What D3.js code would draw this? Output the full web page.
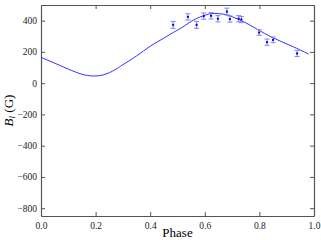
<!DOCTYPE html>
<html>
<head>
<script src="https://cdn.jsdelivr.net/npm/d3@7"></script>
<style>
  body { margin: 0; background: #fff; }
  svg text { font-family: "Liberation Serif", "Times New Roman", serif !important; }
</style>
</head>
<body>
<script>
// measured points (phase, field, error)
var phase = [0.484, 0.538, 0.570, 0.596, 0.623, 0.648, 0.681, 0.692, 0.724, 0.734, 0.799, 0.828, 0.850, 0.938];
var field = [373, 424, 373, 429, 431, 412, 458, 410, 412, 407, 324, 262, 277, 190];
var err   = [22, 20, 22, 20, 20, 20, 22, 20, 20, 20, 18, 20, 18, 20];

// fitted curve
var fitPhase = [0.00, 0.05, 0.10, 0.15, 0.19, 0.23, 0.27, 0.30, 0.35, 0.40, 0.45, 0.49, 0.52, 0.56, 0.60, 0.63, 0.67, 0.70, 0.74, 0.79, 0.85, 0.92, 0.98];
var fitField = [165, 128, 90, 57, 46, 54, 84, 118, 174, 236, 288, 330, 360, 405, 434, 446, 441, 425, 395, 347, 290, 236, 186];

var xTicks = [0.0, 0.2, 0.4, 0.6, 0.8, 1.0];
var yTicks = [-800, -600, -400, -200, 0, 200, 400];

var W = 321, H = 240;
var m = { left: 41, right: 7, top: 5, bottom: 24 };

var svg = d3.select("body").append("svg")
    .attr("width", W)
    .attr("height", H);

var x = d3.scaleLinear().domain([0, 1]).range([m.left, W - m.right]);
var y = d3.scaleLinear().domain([-850, 500]).range([H - m.bottom, m.top]);

var fmtY = function (d) { return d < 0 ? "\u2212" + Math.abs(d) : "" + d; };

// ticks inward on all four sides
var axB = svg.append("g").attr("transform", "translate(0," + y.range()[0] + ")")
    .call(d3.axisBottom(x).tickValues(xTicks).tickSizeInner(-4).tickSizeOuter(0).tickPadding(6).tickFormat(d3.format(".1f")));
var axT = svg.append("g").attr("transform", "translate(0," + y.range()[1] + ")")
    .call(d3.axisTop(x).tickValues(xTicks).tickSizeInner(-4).tickSizeOuter(0).tickFormat(""));
var axL = svg.append("g").attr("transform", "translate(" + x.range()[0] + ",0)")
    .call(d3.axisLeft(y).tickValues(yTicks).tickSizeInner(-4).tickSizeOuter(0).tickPadding(4).tickFormat(fmtY));
var axR = svg.append("g").attr("transform", "translate(" + x.range()[1] + ",0)")
    .call(d3.axisRight(y).tickValues(yTicks).tickSizeInner(-4).tickSizeOuter(0).tickFormat(""));

[axB, axT, axL, axR].forEach(function (g) {
  g.attr("font-family", null);
  g.select(".domain").attr("stroke", "#555").attr("stroke-width", 1.2);
  g.selectAll(".tick line").attr("stroke", "#555");
  g.selectAll("text").attr("font-size", 9.5).attr("fill", "#222");
});

// fit curve
var line = d3.line()
    .x(function (d, i) { return x(fitPhase[i]); })
    .y(function (d) { return y(d); })
    .curve(d3.curveNatural);

svg.append("path")
    .datum(fitField)
    .attr("d", line)
    .attr("fill", "none")
    .attr("stroke", "#3333ff")
    .attr("stroke-width", 1);

// error bars
var pts = svg.append("g").selectAll("g").data(field).enter().append("g");
pts.append("line")
    .attr("x1", function (d, i) { return x(phase[i]); })
    .attr("x2", function (d, i) { return x(phase[i]); })
    .attr("y1", function (d, i) { return y(d - err[i]); })
    .attr("y2", function (d, i) { return y(d + err[i]); })
    .attr("stroke", "#8080ff").attr("stroke-width", 1);
[-1, 1].forEach(function (s) {
  pts.append("line")
    .attr("x1", function (d, i) { return x(phase[i]) - 2.5; })
    .attr("x2", function (d, i) { return x(phase[i]) + 2.5; })
    .attr("y1", function (d, i) { return y(d + s * err[i]); })
    .attr("y2", function (d, i) { return y(d + s * err[i]); })
    .attr("stroke", "#8080ff").attr("stroke-width", 1);
});
pts.append("rect")
    .attr("x", function (d, i) { return x(phase[i]) - 1; })
    .attr("y", function (d) { return y(d) - 1; })
    .attr("width", 2).attr("height", 2)
    .attr("fill", "#0000cc");

// axis labels
svg.append("text")
    .attr("x", (x.range()[0] + x.range()[1]) / 2)
    .attr("y", 237)
    .attr("text-anchor", "middle")
    .attr("font-size", 13)
    .text("Phase");

var yl = svg.append("text")
    .attr("transform", "translate(13," + ((y.range()[0] + y.range()[1]) / 2) + ") rotate(-90)")
    .attr("text-anchor", "middle")
    .attr("font-size", 13);
yl.append("tspan").attr("font-style", "italic").text("B");
yl.append("tspan").attr("font-style", "italic").attr("font-size", 9).attr("dy", 2).text("l");
yl.append("tspan").attr("dy", -2).text(" (G)");
</script>
</body>
</html>
